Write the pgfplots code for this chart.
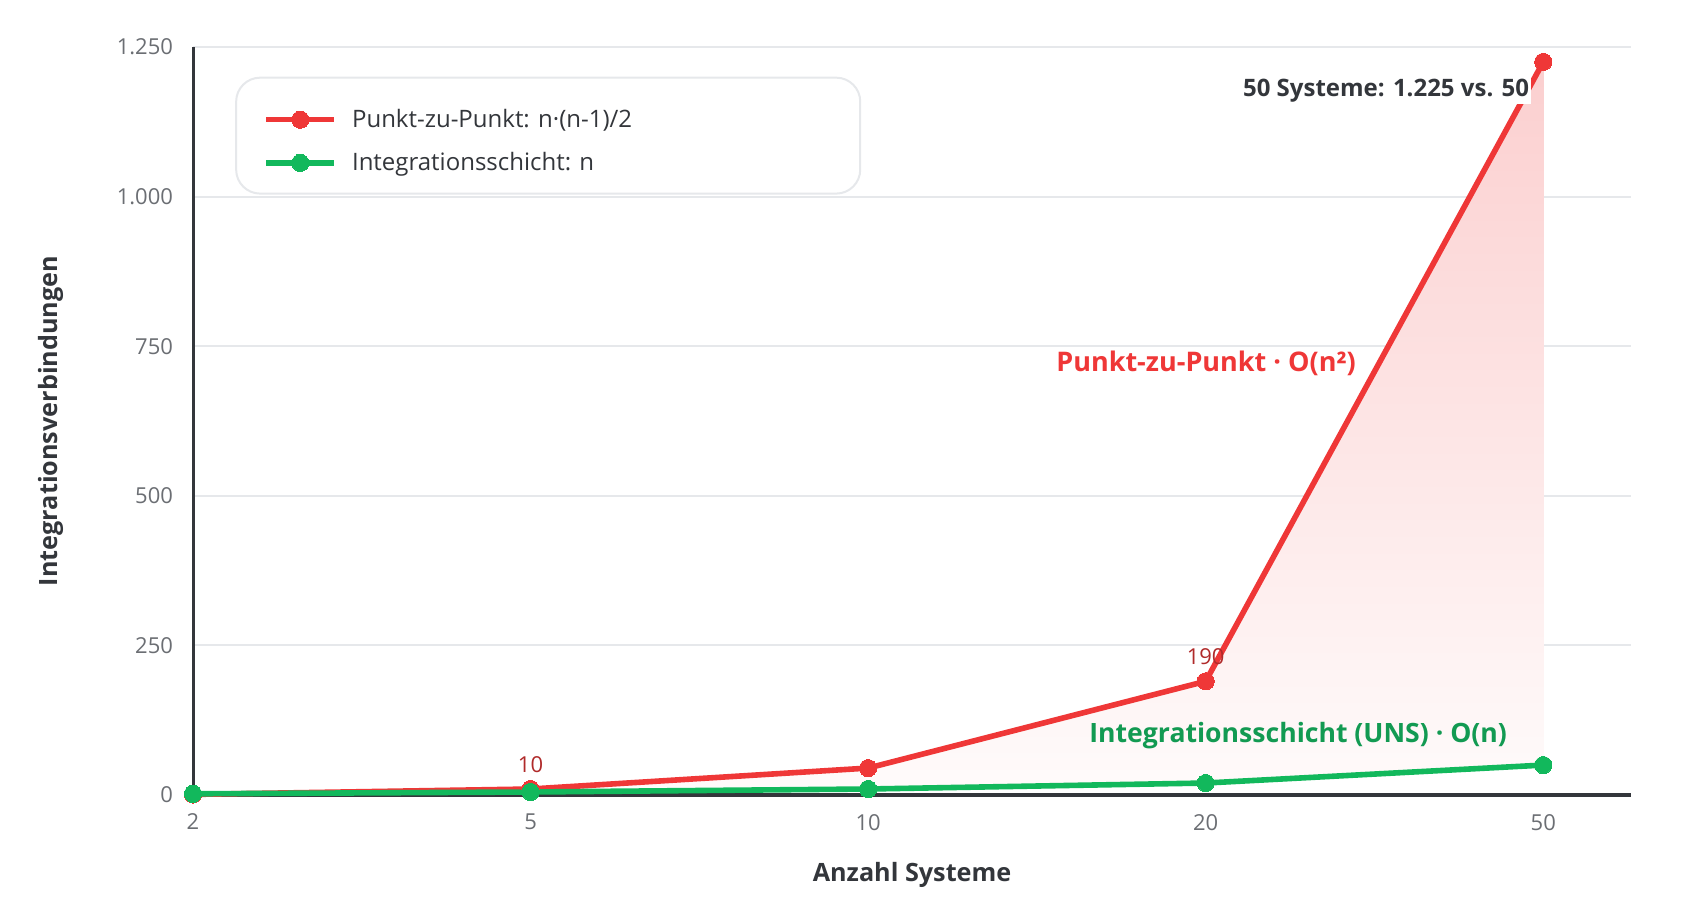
\documentclass[border=0pt]{standalone}
\usepackage{pgfplots}
\pgfplotsset{compat=1.18}
\usepgfplotslibrary{fillbetween}
\usepackage{fontspec}
\setmainfont{Open Sans}
\definecolor{cred}{HTML}{EF3737}
\definecolor{cgreen}{HTML}{12B85C}
\definecolor{cgreentxt}{HTML}{129A52}
\definecolor{cdred}{HTML}{B02A2A}
\definecolor{cgrid}{HTML}{E6E8EB}
\definecolor{cax}{HTML}{33363B}
\definecolor{ctick}{HTML}{6B6E73}
\definecolor{ctext}{HTML}{33363B}
\pgfplotstableread{
x n p2p uns
0 2 1 2
1 5 10 5
2 10 45 10
3 20 190 20
4 50 1225 50
}\datatab
\begin{document}
\begin{tikzpicture}
\begin{axis}[
  scale only axis,
  width=719pt, height=374pt,
  xmin=0, xmax=4.26, ymin=0, ymax=1250,
  clip=false,
  axis lines=left,
  axis line style={cax, line width=1.5pt, -},
  x axis line style={line width=2pt},
  xtick={0,1,2,3,4},
  xticklabels={2,5,10,20,50},
  ytick={0,250,500,750,1000,1250},
  major tick length=0pt,
  ymajorgrids,
  grid style={cgrid, line width=1pt},
  tick label style={font=\fontsize{11}{13}\selectfont, text=ctick},
  /pgf/number format/.cd, 1000 sep={.}, assume math mode=true,
  /pgfplots/.cd,
  yticklabel style={xshift=-6.5pt},
  xticklabel style={yshift=-6pt},
  xlabel={\bfseries Anzahl Systeme},
  ylabel={\bfseries Integrationsverbindungen},
  label style={font=\fontsize{12.6}{14}\selectfont, text=ctext},
  xlabel style={at={(axis description cs:0.5,0)}, anchor=center, yshift=-40pt},
  ylabel style={at={(axis description cs:0,0.5)}, anchor=center, yshift=71pt},
  legend style={draw=none, fill=none, at={(rel axis cs:0.052,0.905)}, anchor=north west,
    xshift=-5.4pt, yshift=8.7pt,
    font=\fontsize{12}{14}\selectfont, text=ctext, row sep=7pt,
    /tikz/every odd column/.append style={column sep=5.4pt}},
  legend cell align=left,
  legend image code/.code={\draw[mark repeat=2,mark phase=2,#1] plot coordinates {(0cm,0cm) (0.6cm,0cm) (1.2cm,0cm)};},
]
\draw[cgrid, line width=1pt, fill=white, rounded corners=12pt]
  (rel axis cs:0.030,0.959) rectangle (rel axis cs:0.464,0.804);
\addplot[name path=red, draw=none, forget plot] table[x=x,y=p2p]{\datatab};
\addplot[name path=green, draw=none, forget plot] table[x=x,y=uns]{\datatab};
\addplot[top color=cred!24, bottom color=cred!2, draw=none, forget plot] fill between[of=red and green];
\addplot[cred, line width=2.8pt, mark=*, mark size=4.3pt, mark options={line width=0pt, fill=cred}] table[x=x,y=p2p]{\datatab};
\addlegendentry{Punkt-zu-Punkt: n·(n-1)/2}
\addplot[cgreen, line width=2.8pt, mark=*, mark size=4.3pt, mark options={line width=0pt, fill=cgreen}] table[x=x,y=uns]{\datatab};
\addlegendentry{Integrationsschicht: n}
\node[text=cdred, font=\fontsize{11}{13}\selectfont, anchor=south] at (axis cs:1,26) {10};
\node[text=cdred, font=\fontsize{11}{13}\selectfont, anchor=south] at (axis cs:3,206) {190};
\node[text=ctext, font=\bfseries\fontsize{12}{14}\selectfont, anchor=east, fill=white, inner sep=1pt] at (axis cs:3.965,1177) {50 Systeme: 1.225 vs. 50};
\node[text=cred, font=\bfseries\fontsize{13.5}{15}\selectfont, anchor=east] at (axis cs:3.466,721) {Punkt-zu-Punkt · O(n²)};
\node[text=cgreentxt, font=\bfseries\fontsize{13.3}{15}\selectfont, anchor=center] at (axis cs:3.274,100) {Integrationsschicht (UNS) · O(n)};
\coordinate (sw) at (rel axis cs:0,0);
\coordinate (ne) at (rel axis cs:1,1);
\end{axis}
\pgfresetboundingbox
\path ([shift={(-96.5pt,-57.5pt)}]sw) rectangle ([shift={(34.5pt,23.5pt)}]ne);
\end{tikzpicture}
\end{document}
